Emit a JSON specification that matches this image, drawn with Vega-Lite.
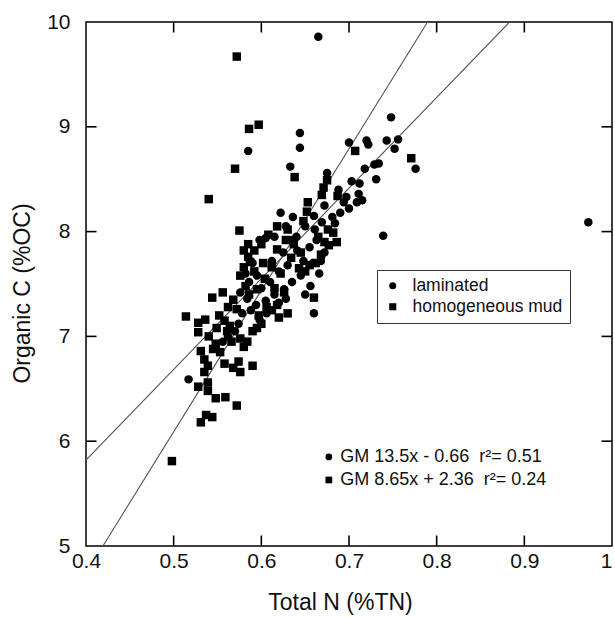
{
  "$schema": "https://vega.github.io/schema/vega-lite/v6.json",
  "width": 526,
  "height": 524,
  "autosize": {"type": "none"},
  "padding": {"left": 86, "top": 22, "right": 3, "bottom": 71},
  "config": {
    "view": {"stroke": "#000", "strokeWidth": 1.5},
    "font": "Liberation Sans",
    "axis": {"grid": false, "domain": false, "ticks": false, "tickSize": 0, "labelFlush": false, "labelColor": "#111", "titleColor": "#111", "titleFontWeight": "normal", "labelFont": "Liberation Sans", "titleFont": "Liberation Sans"},
    "legend": {"orient": "none", "legendX": 291, "legendY": 248, "strokeColor": "#333", "fillColor": "white", "padding": 7, "labelFontSize": 17.5, "labelFont": "Liberation Sans", "labelColor": "#111", "symbolSize": 50, "rowPadding": 2, "labelOffset": 11, "symbolStrokeWidth": 0}
  },
  "datasets": {
    "xt": [{"v": 0.5}, {"v": 0.6}, {"v": 0.7}, {"v": 0.8}, {"v": 0.9}],
    "yt": [{"v": 6}, {"v": 7}, {"v": 8}, {"v": 9}],
    "lines": [
      {"line": "laminated", "x": 0.4193, "y": 5.0},
      {"line": "laminated", "x": 0.7896, "y": 10.0},
      {"line": "homogeneous", "x": 0.4, "y": 5.82},
      {"line": "homogeneous", "x": 0.8832, "y": 10.0}
    ],
    "notes": [
      {"type": "laminated", "px": 0.677, "tx": 0.69, "y": 5.85, "label": "GM 13.5x - 0.66 \u00a0r²= 0.51"},
      {"type": "homogeneous mud", "px": 0.677, "tx": 0.69, "y": 5.63, "label": "GM 8.65x + 2.36 \u00a0r²= 0.24"}
    ],
    "points": [
      {"type": "laminated", "tn": 0.665, "oc": 9.86},
      {"type": "laminated", "tn": 0.644, "oc": 8.94},
      {"type": "laminated", "tn": 0.644, "oc": 8.80},
      {"type": "laminated", "tn": 0.585, "oc": 8.77},
      {"type": "laminated", "tn": 0.633, "oc": 8.62},
      {"type": "laminated", "tn": 0.675, "oc": 8.56},
      {"type": "laminated", "tn": 0.748, "oc": 9.09},
      {"type": "laminated", "tn": 0.700, "oc": 8.85},
      {"type": "laminated", "tn": 0.720, "oc": 8.87},
      {"type": "laminated", "tn": 0.722, "oc": 8.83},
      {"type": "laminated", "tn": 0.743, "oc": 8.87},
      {"type": "laminated", "tn": 0.756, "oc": 8.88},
      {"type": "laminated", "tn": 0.752, "oc": 8.79},
      {"type": "laminated", "tn": 0.776, "oc": 8.60},
      {"type": "laminated", "tn": 0.718, "oc": 8.60},
      {"type": "laminated", "tn": 0.729, "oc": 8.64},
      {"type": "laminated", "tn": 0.734, "oc": 8.65},
      {"type": "laminated", "tn": 0.731, "oc": 8.50},
      {"type": "laminated", "tn": 0.703, "oc": 8.48},
      {"type": "laminated", "tn": 0.712, "oc": 8.46},
      {"type": "laminated", "tn": 0.711, "oc": 8.36},
      {"type": "laminated", "tn": 0.694, "oc": 8.28},
      {"type": "laminated", "tn": 0.709, "oc": 8.28},
      {"type": "laminated", "tn": 0.684, "oc": 8.08},
      {"type": "laminated", "tn": 0.681, "oc": 8.14},
      {"type": "laminated", "tn": 0.636, "oc": 8.14},
      {"type": "laminated", "tn": 0.739, "oc": 7.96},
      {"type": "laminated", "tn": 0.973, "oc": 8.09},
      {"type": "laminated", "tn": 0.660, "oc": 7.22},
      {"type": "laminated", "tn": 0.517, "oc": 6.59},
      {"type": "laminated", "tn": 0.622, "oc": 8.18},
      {"type": "laminated", "tn": 0.598, "oc": 7.92},
      {"type": "laminated", "tn": 0.605, "oc": 7.94},
      {"type": "laminated", "tn": 0.669, "oc": 8.09},
      {"type": "laminated", "tn": 0.661, "oc": 8.02},
      {"type": "laminated", "tn": 0.663, "oc": 7.92},
      {"type": "laminated", "tn": 0.635, "oc": 7.92},
      {"type": "laminated", "tn": 0.659, "oc": 7.70},
      {"type": "laminated", "tn": 0.641, "oc": 7.82},
      {"type": "laminated", "tn": 0.690, "oc": 8.18},
      {"type": "laminated", "tn": 0.672, "oc": 8.25},
      {"type": "laminated", "tn": 0.660, "oc": 8.15},
      {"type": "laminated", "tn": 0.650, "oc": 8.05},
      {"type": "laminated", "tn": 0.628, "oc": 8.05},
      {"type": "laminated", "tn": 0.615, "oc": 7.95},
      {"type": "laminated", "tn": 0.625, "oc": 7.80},
      {"type": "laminated", "tn": 0.612, "oc": 7.72},
      {"type": "laminated", "tn": 0.620, "oc": 7.62},
      {"type": "laminated", "tn": 0.630, "oc": 7.68},
      {"type": "laminated", "tn": 0.648, "oc": 7.72},
      {"type": "laminated", "tn": 0.668, "oc": 7.72},
      {"type": "laminated", "tn": 0.672, "oc": 7.80},
      {"type": "laminated", "tn": 0.655, "oc": 7.85},
      {"type": "laminated", "tn": 0.645, "oc": 7.58},
      {"type": "laminated", "tn": 0.635, "oc": 7.52},
      {"type": "laminated", "tn": 0.626, "oc": 7.45},
      {"type": "laminated", "tn": 0.615, "oc": 7.40},
      {"type": "laminated", "tn": 0.605, "oc": 7.34},
      {"type": "laminated", "tn": 0.600, "oc": 7.46},
      {"type": "laminated", "tn": 0.594, "oc": 7.30},
      {"type": "laminated", "tn": 0.588, "oc": 7.25},
      {"type": "laminated", "tn": 0.584, "oc": 7.36},
      {"type": "laminated", "tn": 0.578, "oc": 7.22},
      {"type": "laminated", "tn": 0.574, "oc": 7.12},
      {"type": "laminated", "tn": 0.570, "oc": 7.05},
      {"type": "laminated", "tn": 0.576, "oc": 7.42},
      {"type": "laminated", "tn": 0.586, "oc": 7.52},
      {"type": "laminated", "tn": 0.595, "oc": 7.58},
      {"type": "laminated", "tn": 0.598, "oc": 7.16},
      {"type": "laminated", "tn": 0.606, "oc": 7.22},
      {"type": "laminated", "tn": 0.610, "oc": 7.52},
      {"type": "laminated", "tn": 0.620, "oc": 7.32},
      {"type": "laminated", "tn": 0.628, "oc": 7.36},
      {"type": "laminated", "tn": 0.688, "oc": 8.40},
      {"type": "laminated", "tn": 0.697, "oc": 8.33},
      {"type": "laminated", "tn": 0.700, "oc": 8.22},
      {"type": "laminated", "tn": 0.715, "oc": 8.30},
      {"type": "laminated", "tn": 0.666, "oc": 7.60},
      {"type": "laminated", "tn": 0.656, "oc": 7.48},
      {"type": "laminated", "tn": 0.650, "oc": 7.40},
      {"type": "laminated", "tn": 0.590, "oc": 7.70},
      {"type": "laminated", "tn": 0.582, "oc": 7.60},
      {"type": "laminated", "tn": 0.562, "oc": 7.00},
      {"type": "laminated", "tn": 0.556, "oc": 6.95},
      {"type": "laminated", "tn": 0.640, "oc": 7.95},
      {"type": "homogeneous mud", "tn": 0.572, "oc": 9.67},
      {"type": "homogeneous mud", "tn": 0.586, "oc": 8.98},
      {"type": "homogeneous mud", "tn": 0.597, "oc": 9.02},
      {"type": "homogeneous mud", "tn": 0.570, "oc": 8.60},
      {"type": "homogeneous mud", "tn": 0.638, "oc": 8.52},
      {"type": "homogeneous mud", "tn": 0.540, "oc": 8.31},
      {"type": "homogeneous mud", "tn": 0.575, "oc": 8.01},
      {"type": "homogeneous mud", "tn": 0.707, "oc": 8.77},
      {"type": "homogeneous mud", "tn": 0.771, "oc": 8.70},
      {"type": "homogeneous mud", "tn": 0.687, "oc": 8.34},
      {"type": "homogeneous mud", "tn": 0.682, "oc": 7.99},
      {"type": "homogeneous mud", "tn": 0.675, "oc": 8.49},
      {"type": "homogeneous mud", "tn": 0.671, "oc": 8.42},
      {"type": "homogeneous mud", "tn": 0.669, "oc": 8.35},
      {"type": "homogeneous mud", "tn": 0.653, "oc": 8.28},
      {"type": "homogeneous mud", "tn": 0.652, "oc": 8.19},
      {"type": "homogeneous mud", "tn": 0.677, "oc": 7.87},
      {"type": "homogeneous mud", "tn": 0.648, "oc": 8.10},
      {"type": "homogeneous mud", "tn": 0.630, "oc": 8.02},
      {"type": "homogeneous mud", "tn": 0.618, "oc": 8.05},
      {"type": "homogeneous mud", "tn": 0.608, "oc": 7.97},
      {"type": "homogeneous mud", "tn": 0.600, "oc": 7.88},
      {"type": "homogeneous mud", "tn": 0.592, "oc": 7.82},
      {"type": "homogeneous mud", "tn": 0.585, "oc": 7.76},
      {"type": "homogeneous mud", "tn": 0.580, "oc": 7.66},
      {"type": "homogeneous mud", "tn": 0.576, "oc": 7.58},
      {"type": "homogeneous mud", "tn": 0.582, "oc": 7.48},
      {"type": "homogeneous mud", "tn": 0.592, "oc": 7.62},
      {"type": "homogeneous mud", "tn": 0.602, "oc": 7.70},
      {"type": "homogeneous mud", "tn": 0.612, "oc": 7.66},
      {"type": "homogeneous mud", "tn": 0.622, "oc": 7.60},
      {"type": "homogeneous mud", "tn": 0.634, "oc": 7.75},
      {"type": "homogeneous mud", "tn": 0.643, "oc": 7.65},
      {"type": "homogeneous mud", "tn": 0.650, "oc": 7.62},
      {"type": "homogeneous mud", "tn": 0.655, "oc": 7.68},
      {"type": "homogeneous mud", "tn": 0.662, "oc": 7.70},
      {"type": "homogeneous mud", "tn": 0.668, "oc": 7.78},
      {"type": "homogeneous mud", "tn": 0.672, "oc": 7.90},
      {"type": "homogeneous mud", "tn": 0.665, "oc": 7.95},
      {"type": "homogeneous mud", "tn": 0.676, "oc": 8.02},
      {"type": "homogeneous mud", "tn": 0.686, "oc": 7.90},
      {"type": "homogeneous mud", "tn": 0.645, "oc": 7.80},
      {"type": "homogeneous mud", "tn": 0.637, "oc": 7.88},
      {"type": "homogeneous mud", "tn": 0.628, "oc": 7.92},
      {"type": "homogeneous mud", "tn": 0.618, "oc": 7.83},
      {"type": "homogeneous mud", "tn": 0.660, "oc": 7.37},
      {"type": "homogeneous mud", "tn": 0.514, "oc": 7.19},
      {"type": "homogeneous mud", "tn": 0.528, "oc": 7.13},
      {"type": "homogeneous mud", "tn": 0.528, "oc": 7.04},
      {"type": "homogeneous mud", "tn": 0.544, "oc": 7.37},
      {"type": "homogeneous mud", "tn": 0.536, "oc": 7.16},
      {"type": "homogeneous mud", "tn": 0.540, "oc": 7.00},
      {"type": "homogeneous mud", "tn": 0.548, "oc": 6.93},
      {"type": "homogeneous mud", "tn": 0.552, "oc": 7.20},
      {"type": "homogeneous mud", "tn": 0.558, "oc": 7.15},
      {"type": "homogeneous mud", "tn": 0.562, "oc": 7.28},
      {"type": "homogeneous mud", "tn": 0.568, "oc": 7.35},
      {"type": "homogeneous mud", "tn": 0.572, "oc": 7.26},
      {"type": "homogeneous mud", "tn": 0.556, "oc": 7.42},
      {"type": "homogeneous mud", "tn": 0.564, "oc": 7.10},
      {"type": "homogeneous mud", "tn": 0.576, "oc": 6.98},
      {"type": "homogeneous mud", "tn": 0.580, "oc": 6.90},
      {"type": "homogeneous mud", "tn": 0.584, "oc": 6.95},
      {"type": "homogeneous mud", "tn": 0.590, "oc": 7.05},
      {"type": "homogeneous mud", "tn": 0.595, "oc": 7.08},
      {"type": "homogeneous mud", "tn": 0.600, "oc": 7.12},
      {"type": "homogeneous mud", "tn": 0.606, "oc": 7.28},
      {"type": "homogeneous mud", "tn": 0.612, "oc": 7.25},
      {"type": "homogeneous mud", "tn": 0.618, "oc": 7.30},
      {"type": "homogeneous mud", "tn": 0.626, "oc": 7.42},
      {"type": "homogeneous mud", "tn": 0.630, "oc": 7.22},
      {"type": "homogeneous mud", "tn": 0.620, "oc": 7.18},
      {"type": "homogeneous mud", "tn": 0.531, "oc": 6.86},
      {"type": "homogeneous mud", "tn": 0.535, "oc": 6.78},
      {"type": "homogeneous mud", "tn": 0.539, "oc": 6.72},
      {"type": "homogeneous mud", "tn": 0.545, "oc": 6.88},
      {"type": "homogeneous mud", "tn": 0.553, "oc": 6.85},
      {"type": "homogeneous mud", "tn": 0.558, "oc": 6.74},
      {"type": "homogeneous mud", "tn": 0.566, "oc": 6.95},
      {"type": "homogeneous mud", "tn": 0.568, "oc": 6.70},
      {"type": "homogeneous mud", "tn": 0.576, "oc": 6.66},
      {"type": "homogeneous mud", "tn": 0.574, "oc": 6.76},
      {"type": "homogeneous mud", "tn": 0.590, "oc": 6.72},
      {"type": "homogeneous mud", "tn": 0.528, "oc": 6.52},
      {"type": "homogeneous mud", "tn": 0.539, "oc": 6.48},
      {"type": "homogeneous mud", "tn": 0.548, "oc": 6.41},
      {"type": "homogeneous mud", "tn": 0.559, "oc": 6.42},
      {"type": "homogeneous mud", "tn": 0.572, "oc": 6.34},
      {"type": "homogeneous mud", "tn": 0.531, "oc": 6.18},
      {"type": "homogeneous mud", "tn": 0.537, "oc": 6.25},
      {"type": "homogeneous mud", "tn": 0.544, "oc": 6.23},
      {"type": "homogeneous mud", "tn": 0.498, "oc": 5.81},
      {"type": "homogeneous mud", "tn": 0.586, "oc": 7.40},
      {"type": "homogeneous mud", "tn": 0.595, "oc": 7.45},
      {"type": "homogeneous mud", "tn": 0.597, "oc": 7.20},
      {"type": "homogeneous mud", "tn": 0.604, "oc": 7.55},
      {"type": "homogeneous mud", "tn": 0.615, "oc": 7.46},
      {"type": "homogeneous mud", "tn": 0.561, "oc": 7.05},
      {"type": "homogeneous mud", "tn": 0.549, "oc": 7.08},
      {"type": "homogeneous mud", "tn": 0.539, "oc": 6.56},
      {"type": "homogeneous mud", "tn": 0.535, "oc": 6.66},
      {"type": "homogeneous mud", "tn": 0.587, "oc": 7.71},
      {"type": "homogeneous mud", "tn": 0.612, "oc": 7.68},
      {"type": "homogeneous mud", "tn": 0.585, "oc": 7.88},
      {"type": "homogeneous mud", "tn": 0.580, "oc": 7.82}
    ]
  },
  "layer": [
    {
      "data": {"name": "xt"},
      "mark": {"type": "rule", "color": "black", "strokeWidth": 1.6},
      "encoding": {
        "x": {"field": "v", "type": "quantitative", "scale": {"domain": [0.4, 1.0], "nice": false, "zero": false}, "axis": null},
        "y": {"datum": 5, "type": "quantitative", "scale": {"domain": [5, 10], "nice": false, "zero": false}, "axis": null},
        "y2": {"datum": 5.1}
      }
    },
    {
      "data": {"name": "xt"},
      "mark": {"type": "rule", "color": "black", "strokeWidth": 1.6},
      "encoding": {
        "x": {"field": "v", "type": "quantitative", "scale": {"domain": [0.4, 1.0], "nice": false, "zero": false}, "axis": null},
        "y": {"datum": 10, "type": "quantitative", "scale": {"domain": [5, 10], "nice": false, "zero": false}, "axis": null},
        "y2": {"datum": 9.9}
      }
    },
    {
      "data": {"name": "yt"},
      "mark": {"type": "rule", "color": "black", "strokeWidth": 1.6},
      "encoding": {
        "y": {"field": "v", "type": "quantitative", "scale": {"domain": [5, 10], "nice": false, "zero": false}, "axis": null},
        "x": {"datum": 0.4, "type": "quantitative", "scale": {"domain": [0.4, 1.0], "nice": false, "zero": false}, "axis": null},
        "x2": {"datum": 0.412}
      }
    },
    {
      "data": {"name": "yt"},
      "mark": {"type": "rule", "color": "black", "strokeWidth": 1.6},
      "encoding": {
        "y": {"field": "v", "type": "quantitative", "scale": {"domain": [5, 10], "nice": false, "zero": false}, "axis": null},
        "x": {"datum": 1.0, "type": "quantitative", "scale": {"domain": [0.4, 1.0], "nice": false, "zero": false}, "axis": null},
        "x2": {"datum": 0.988}
      }
    },
    {
      "data": {"name": "lines"},
      "mark": {"type": "line", "color": "#555", "strokeWidth": 1.1, "clip": true},
      "encoding": {
        "x": {"field": "x", "type": "quantitative", "scale": {"domain": [0.4, 1.0], "nice": false, "zero": false}, "axis": null},
        "y": {"field": "y", "type": "quantitative", "scale": {"domain": [5, 10], "nice": false, "zero": false}, "axis": null},
        "detail": {"field": "line"}
      }
    },
    {
      "data": {"name": "points"},
      "mark": {"type": "point", "filled": true, "color": "black", "opacity": 1, "size": 72},
      "encoding": {
        "x": {"field": "tn", "type": "quantitative", "scale": {"domain": [0.4, 1.0], "nice": false, "zero": false},
              "axis": {"orient": "bottom", "values": [0.4, 0.5, 0.6, 0.7, 0.8, 0.9, 1.0], "format": "~g", "labelPadding": 4, "labelFontSize": 21,
                       "labelAlign": {"condition": {"test": "datum.value >= 1", "value": "right"}, "value": "center"},
                       "title": "Total N (%TN)", "titleFontSize": 23, "titlePadding": 20, "titleX": 254}},
        "y": {"field": "oc", "type": "quantitative", "scale": {"domain": [5, 10], "nice": false, "zero": false},
              "axis": {"orient": "left", "values": [5, 6, 7, 8, 9, 10], "format": "d", "labelPadding": 16, "labelFontSize": 21, "title": "Organic C (%OC)", "titleFontSize": 23, "titlePadding": 12, "titleY": 271}},
        "shape": {"field": "type", "type": "nominal", "scale": {"domain": ["laminated", "homogeneous mud"], "range": ["circle", "square"]}, "legend": {"title": null}}
      }
    },
    {
      "data": {"name": "notes"},
      "mark": {"type": "point", "filled": true, "color": "black", "opacity": 1, "size": 45},
      "encoding": {
        "x": {"field": "px", "type": "quantitative", "scale": {"domain": [0.4, 1.0], "nice": false, "zero": false}, "axis": null},
        "y": {"field": "y", "type": "quantitative", "scale": {"domain": [5, 10], "nice": false, "zero": false}, "axis": null},
        "shape": {"field": "type", "type": "nominal", "scale": {"domain": ["laminated", "homogeneous mud"], "range": ["circle", "square"]}, "legend": null}
      }
    },
    {
      "data": {"name": "notes"},
      "mark": {"type": "text", "align": "left", "baseline": "middle", "fontSize": 18, "font": "Liberation Sans", "color": "#111"},
      "encoding": {
        "x": {"field": "tx", "type": "quantitative", "scale": {"domain": [0.4, 1.0], "nice": false, "zero": false}, "axis": null},
        "y": {"field": "y", "type": "quantitative", "scale": {"domain": [5, 10], "nice": false, "zero": false}, "axis": null},
        "text": {"field": "label"}
      }
    }
  ],
  "resolve": {"axis": {"x": "independent", "y": "independent"}}
}
